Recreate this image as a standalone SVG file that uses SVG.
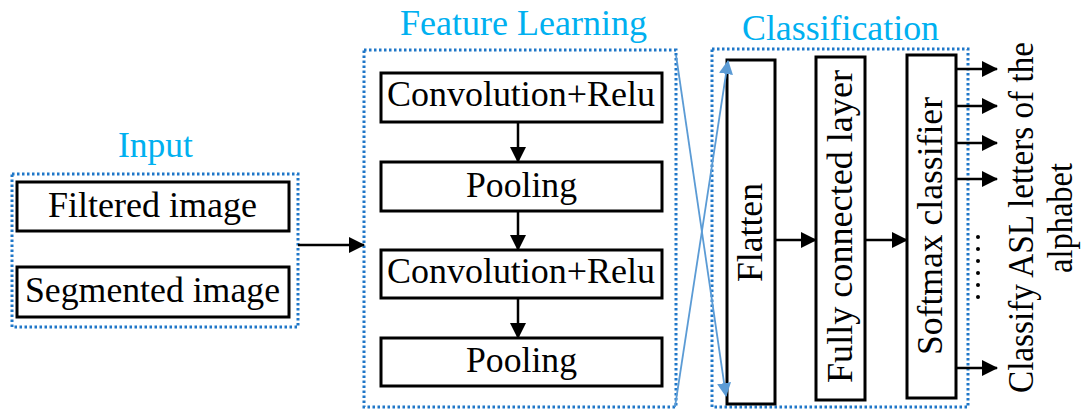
<svg xmlns="http://www.w3.org/2000/svg" width="1082" height="410" viewBox="0 0 1082 410">
<style>
.grp{fill:none;stroke:#1F77C8;stroke-width:3;stroke-dasharray:2.5 2.5}
.box{fill:#fff;stroke:#000;stroke-width:3}
.t{font-family:"Liberation Serif","Times New Roman",serif;font-size:36px;fill:#000;text-anchor:middle}
.lbl{font-family:"Liberation Serif","Times New Roman",serif;font-size:35px;fill:#00B0F0;text-anchor:middle}
.c{stroke:#000;stroke-width:2.5;fill:none}
.b{stroke:#5B9BD5;stroke-width:1.8;fill:none}
</style>
<defs>
<marker id="ahb" markerWidth="14" markerHeight="14" refX="13" refY="7" orient="auto" markerUnits="userSpaceOnUse" viewBox="0 0 14 14">
<path d="M0,0 L14,7 L0,14 z" fill="#5B9BD5"/>
</marker>
<marker id="ahk" markerWidth="16" markerHeight="16" refX="15" refY="8" orient="auto" markerUnits="userSpaceOnUse" viewBox="0 0 16 16">
<path d="M0,0 L16,8 L0,16 z" fill="#000"/>
</marker>
</defs>

<g id="input">
<text class="lbl" x="155.5" y="157" textLength="75" lengthAdjust="spacingAndGlyphs">Input</text>
<rect class="grp" x="12" y="174" width="286" height="153"/>
<g id="filtered"><rect class="box" x="17" y="182" width="272" height="49"/><text class="t" x="152.5" y="217" textLength="209" lengthAdjust="spacingAndGlyphs">Filtered image</text></g>
<g id="segmented"><rect class="box" x="17" y="267" width="272" height="50"/><text class="t" x="152.5" y="302" textLength="255" lengthAdjust="spacingAndGlyphs">Segmented image</text></g>
</g>

<g id="feature">
<text class="lbl" x="523.5" y="35" textLength="247" lengthAdjust="spacingAndGlyphs">Feature Learning</text>
<rect class="grp" x="364" y="50" width="312" height="357"/>
<g id="conv1"><rect class="box" x="381" y="73" width="281" height="49"/><text class="t" x="521" y="106" textLength="268" lengthAdjust="spacingAndGlyphs">Convolution+Relu</text></g>
<g id="pool1"><rect class="box" x="381" y="162" width="281" height="49"/><text class="t" x="521.5" y="197" textLength="111" lengthAdjust="spacingAndGlyphs">Pooling</text></g>
<g id="conv2"><rect class="box" x="381" y="250" width="281" height="48"/><text class="t" x="521" y="283" textLength="268" lengthAdjust="spacingAndGlyphs">Convolution+Relu</text></g>
<g id="pool2"><rect class="box" x="381" y="338" width="281" height="48"/><text class="t" x="521.5" y="372" textLength="111" lengthAdjust="spacingAndGlyphs">Pooling</text></g>
</g>

<g id="classification">
<text class="lbl" x="840.5" y="40" textLength="197" lengthAdjust="spacingAndGlyphs">Classification</text>
<rect class="grp" x="712" y="49" width="256" height="358"/>
<g id="flatten"><rect class="box" x="727" y="60" width="48" height="344"/><text class="t" transform="translate(762,232.5) rotate(-90)" textLength="99" lengthAdjust="spacingAndGlyphs">Flatten</text></g>
<g id="fc"><rect class="box" x="816" y="57" width="49" height="343"/><text class="t" transform="translate(852,226.5) rotate(-90)" textLength="313" lengthAdjust="spacingAndGlyphs">Fully connected layer</text></g>
<g id="softmax"><rect class="box" x="907" y="55" width="49" height="343"/><text class="t" transform="translate(942,226) rotate(-90)" textLength="258" lengthAdjust="spacingAndGlyphs">Softmax classifier</text></g>
</g>

<g id="output">
<text class="t" transform="translate(1033,217.5) rotate(-90)" textLength="351" lengthAdjust="spacingAndGlyphs">Classify ASL letters of the</text>
<text class="t" transform="translate(1072,218) rotate(-90)" textLength="110" lengthAdjust="spacingAndGlyphs">alphabet</text>
<g id="dots" fill="#000">
<circle cx="978" cy="237" r="2"/><circle cx="978" cy="249" r="2"/><circle cx="978" cy="261" r="2"/>
<circle cx="978" cy="273" r="2"/><circle cx="978" cy="285" r="2"/><circle cx="978" cy="297" r="2"/>
</g>
</g>

<g id="connectors">
<line class="c" x1="298" y1="245" x2="364" y2="245" marker-end="url(#ahk)"/>
<line class="c" x1="518" y1="122" x2="518" y2="162" marker-end="url(#ahk)"/>
<line class="c" x1="518" y1="211" x2="518" y2="250" marker-end="url(#ahk)"/>
<line class="c" x1="518" y1="298" x2="518" y2="338" marker-end="url(#ahk)"/>
<line class="c" x1="775" y1="240" x2="816" y2="240" marker-end="url(#ahk)"/>
<line class="c" x1="865" y1="240" x2="907" y2="240" marker-end="url(#ahk)"/>
<line class="c" x1="956" y1="69" x2="997" y2="69" marker-end="url(#ahk)"/>
<line class="c" x1="956" y1="106" x2="997" y2="106" marker-end="url(#ahk)"/>
<line class="c" x1="956" y1="143" x2="997" y2="143" marker-end="url(#ahk)"/>
<line class="c" x1="956" y1="179" x2="997" y2="179" marker-end="url(#ahk)"/>
<line class="c" x1="956" y1="368" x2="997" y2="368" marker-end="url(#ahk)"/>
<line class="b" x1="676" y1="55" x2="726" y2="396" marker-end="url(#ahb)"/>
<line class="b" x1="675" y1="407" x2="728" y2="61" marker-end="url(#ahb)"/>
</g>
</svg>
